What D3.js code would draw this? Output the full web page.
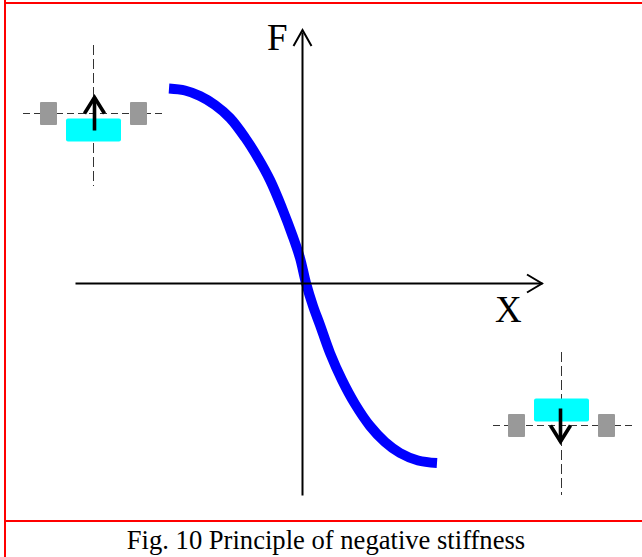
<!DOCTYPE html>
<html>
<head>
<meta charset="utf-8">
<script src="https://cdn.jsdelivr.net/npm/d3@7"></script>
<style>
html, body { margin: 0; padding: 0; background: #fff; overflow: hidden; }
svg { display: block; }
text { font-family: "Liberation Serif", serif; fill: #000; }
</style>
</head>
<body>
<div id="chart"></div>
<script>
// curve (displacement X, force F)
const xValues = [-1.34, -1.18, -1.03, -0.88, -0.73, -0.58, -0.45, -0.33, -0.21, -0.10, -0.03, 0.03, 0.10, 0.17, 0.27, 0.39, 0.52, 0.67, 0.82, 0.97, 1.15, 1.34];
const fValues = [1.945, 1.925, 1.87, 1.78, 1.65, 1.455, 1.25, 1.03, 0.75, 0.46, 0.25, 0, -0.23, -0.42, -0.70, -0.97, -1.21, -1.43, -1.59, -1.70, -1.775, -1.80];
const caption = "Fig. 10 Principle of negative stiffness";
const xLabel = "X";
const fLabel = "F";

const width = 642, height = 557;

const svg = d3.select("#chart").append("svg")
    .attr("width", width)
    .attr("height", height);

// red frame
const frame = svg.append("g").attr("stroke", "#f00").attr("stroke-width", 2);
frame.append("line").attr("x1", 4).attr("x2", width).attr("y1", 3).attr("y2", 3);
frame.append("line").attr("x1", 5).attr("x2", 5).attr("y1", 0).attr("y2", height);
frame.append("line").attr("x1", 5).attr("x2", width).attr("y1", 521).attr("y2", 521);

const x = d3.scaleLinear().domain([-2.28, 2.39]).range([75, 542]);
const y = d3.scaleLinear().domain([-2.12, 2.51]).range([495, 32]);

// curve goes under the axes
const line = d3.line()
    .x(d => x(d[0]))
    .y(d => y(d[1]))
    .curve(d3.curveCatmullRom);

svg.append("path")
    .datum(d3.zip(xValues, fValues))
    .attr("d", line)
    .attr("fill", "none")
    .attr("stroke", "#00f")
    .attr("stroke-width", 10);

// axes without ticks, just the domain lines
const xAxis = svg.append("g")
    .attr("transform", "translate(0," + y(0) + ")")
    .call(d3.axisBottom(x).tickValues([]).tickSizeOuter(0));
const yAxis = svg.append("g")
    .attr("transform", "translate(" + (x(0) - 1) + ",0)")
    .call(d3.axisLeft(y).tickValues([]).tickSizeOuter(0));
[xAxis, yAxis].forEach(a => a.select(".domain").attr("stroke", "#000").attr("stroke-width", 2));

const arrowLine = d3.line();
const xEnd = x.range()[1], yEnd = y.range()[1];
svg.append("path")
    .attr("d", arrowLine([[xEnd - 15, y(0) - 8.5], [xEnd, y(0) + 0.5], [xEnd - 15, y(0) + 9.5]]))
    .attr("fill", "none").attr("stroke", "#000").attr("stroke-width", 2);
svg.append("path")
    .attr("d", arrowLine([[x(0) - 9.5, yEnd + 14], [x(0) - 0.5, yEnd - 2], [x(0) + 8.5, yEnd + 14]]))
    .attr("fill", "none").attr("stroke", "#000").attr("stroke-width", 2);

svg.append("text").attr("x", 267).attr("y", 50).attr("font-size", 37).text(fLabel);
svg.append("text").attr("x", 495).attr("y", 322).attr("font-size", 37).text(xLabel);
svg.append("text").attr("x", 326).attr("y", 549).attr("font-size", 26.6)
    .attr("text-anchor", "middle").text(caption);

// little spring/mass sketches in the two corners
function sketch(cx, cy, blockTop, dir, hExtent, vExtent) {
    const g = svg.append("g").attr("transform", "translate(" + cx + "," + cy + ")");
    g.append("line")
        .attr("x1", hExtent[0]).attr("x2", hExtent[1]).attr("y1", 0).attr("y2", 0)
        .attr("stroke", "#333").attr("stroke-dasharray", "7 4");
    g.append("line")
        .attr("x1", 0).attr("x2", 0).attr("y1", vExtent[0]).attr("y2", vExtent[1])
        .attr("stroke", "#333").attr("stroke-dasharray", "10 4");
    g.selectAll("rect.side").data([-53.5, 36.5]).enter().append("rect")
        .attr("class", "side")
        .attr("x", d => d).attr("y", -11.5)
        .attr("width", 17).attr("height", 23)
        .attr("rx", 1)
        .attr("fill", "#999");
    g.append("rect")
        .attr("x", -27.5).attr("y", blockTop)
        .attr("width", 55).attr("height", 23)
        .attr("rx", 2)
        .attr("fill", "#0ff");
    // force arrow
    const ax = dir < 0 ? 1 : -1;
    const a = g.append("g").attr("fill", "none").attr("stroke", "#000").attr("stroke-width", 3.6);
    a.append("line").attr("x1", ax).attr("x2", ax).attr("y1", -dir * 17).attr("y2", dir * 16);
    a.append("path").attr("d", arrowLine([[ax - 10, 0], [ax, dir * 16], [ax + 10, 0]]));
}
sketch(93.5, 113.5, 5, -1, [-70.5, 68.5], [-68.5, 72.5]);
sketch(561.5, 425.5, -27, 1, [-68.5, 70.5], [-73.5, 69.5]);
</script>
</body>
</html>
